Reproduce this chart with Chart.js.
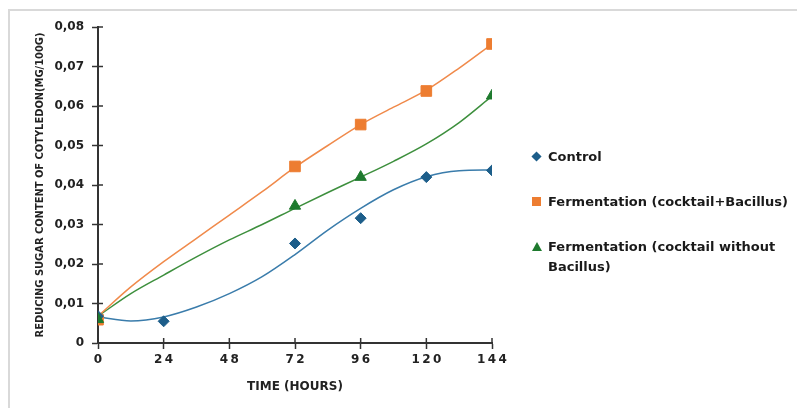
<!DOCTYPE html>
<html lang="en">
  <head>
    <meta charset="UTF-8" />
    <title>Reducing sugar content</title>
    <script src="https://cdn.jsdelivr.net/npm/chart.js"></script>
    <style>
      body {
        margin: 0;
        background: #ffffff;
        width: 797px;
        height: 408px;
        overflow: hidden;
        position: relative;
      }
      #frame {
        position: absolute;
        left: 8px;
        top: 9px;
        width: 820px;
        height: 420px;
        border: 2px solid #d9d9d9;
      }
      #wrap {
        position: absolute;
        left: 0;
        top: 0;
        width: 797px;
        height: 408px;
      }
      #legend {
        position: absolute;
        left: 530px;
        top: 147px;
        width: 262px;
        font-family: "DejaVu Sans", sans-serif;
        font-weight: bold;
        font-size: 13px;
        color: #1a1a1a;
      }
      .item {
        position: relative;
        padding-left: 18px;
        line-height: 20px;
        margin-bottom: 25px;
      }
      .mark {
        position: absolute;
        left: 2px;
        top: 5px;
        width: 9px;
        height: 9px;
      }
    </style>
  </head>
  <body>
    <div id="frame"></div>
    <div id="wrap"><canvas id="myChart" width="797" height="408"></canvas></div>
    <div id="legend"></div>

    <script>
      // measured values (hours -> mg/100g)
      var seriesNames = ['Control', 'Fermentation (cocktail+Bacillus)', 'Fermentation (cocktail without Bacillus)'];
      var controlX = [0, 24, 72, 96, 120, 144];
      var controlY = [0.0068, 0.0055, 0.0252, 0.0316, 0.0420, 0.0437];
      var bacillusX = [0, 72, 96, 120, 144];
      var bacillusY = [0.0059, 0.0447, 0.0553, 0.0638, 0.0757];
      var noBacillusX = [0, 72, 96, 144];
      var noBacillusY = [0.0060, 0.0347, 0.0420, 0.0626];

      // trend curves, every 12 h
      var trendX = [0, 12, 24, 36, 48, 60, 72, 84, 96, 108, 120, 132, 144];
      var controlTrend = [0.0066, 0.0056, 0.0066, 0.0091, 0.0125, 0.0168, 0.0224, 0.0286, 0.0341, 0.0388, 0.0421, 0.0436, 0.0438];
      var bacillusTrend = [0.0068, 0.0142, 0.0206, 0.0265, 0.0324, 0.0383, 0.0445, 0.0500, 0.0553, 0.0597, 0.0640, 0.0696, 0.0757];
      var noBacillusTrend = [0.0068, 0.0125, 0.0172, 0.0218, 0.0261, 0.0300, 0.0341, 0.0381, 0.0420, 0.0460, 0.0504, 0.0558, 0.0625];

      var xTicks = [0, 24, 48, 72, 96, 120, 144];

      var markColors = ['#1d5e8a', '#ed7d31', '#1e7a2e'];
      var lineColors = ['#3a7cab', '#f08a4b', '#3d8f3d'];
      var markStyles = ['rectRot', 'rect', 'triangle'];
      var markSizes = [5.5, 7.5, 6.5];
      var markOrder = [1, 2, 0]; // triangle on top, square at the back

      function pts(xs, ys) {
        return xs.map(function (x, i) { return { x: x, y: ys[i] }; });
      }

      var measured = [pts(controlX, controlY), pts(bacillusX, bacillusY), pts(noBacillusX, noBacillusY)];
      var trends = [pts(trendX, controlTrend), pts(trendX, bacillusTrend), pts(trendX, noBacillusTrend)];

      var datasets = [];
      for (var i = 0; i < 3; i++) {
        datasets.push({
          label: seriesNames[i],
          data: measured[i],
          showLine: false,
          pointStyle: markStyles[i],
          pointRadius: markSizes[i],
          backgroundColor: markColors[i],
          borderColor: markColors[i],
          borderWidth: 1,
          order: markOrder[i]
        });
      }
      for (var j = 0; j < 3; j++) {
        datasets.push({
          label: 'trend' + j,
          data: trends[j],
          showLine: true,
          pointRadius: 0,
          borderColor: lineColors[j],
          borderWidth: 1.5,
          cubicInterpolationMode: 'monotone',
          order: 5
        });
      }

      // tick marks that cross the axes
      var crossTicks = {
        id: 'crossTicks',
        afterDatasetsDraw: function (chart) {
          var ctx = chart.ctx, xs = chart.scales.x, ys = chart.scales.y;
          ctx.save();
          ctx.strokeStyle = '#333';
          ctx.lineWidth = 1.5;
          xs.ticks.forEach(function (t) {
            var px = xs.getPixelForValue(t.value);
            ctx.beginPath();
            ctx.moveTo(px, ys.bottom);
            ctx.lineTo(px, ys.bottom - 5);
            ctx.stroke();
          });
          ys.ticks.forEach(function (t) {
            var py = ys.getPixelForValue(t.value);
            ctx.beginPath();
            ctx.moveTo(xs.left, py);
            ctx.lineTo(xs.left + 5, py);
            ctx.stroke();
          });
          ctx.restore();
        }
      };

      var tickFont = { family: '"DejaVu Sans", sans-serif', size: 12, weight: 'bold' };

      var myChart = new Chart(document.getElementById('myChart').getContext('2d'), {
        type: 'scatter',
        data: { datasets: datasets },
        plugins: [crossTicks],
        options: {
          responsive: false,
          animation: false,
          layout: { padding: { left: 0, top: 27, right: 305, bottom: 0 } },
          plugins: { legend: { display: false }, tooltip: { enabled: false } },
          scales: {
            x: {
              type: 'linear',
              min: 0,
              max: 144,
              afterBuildTicks: function (s) { s.ticks = xTicks.map(function (v) { return { value: v }; }); },
              afterFit: function (s) { s.height = 65; },
              ticks: {
                color: '#222',
                font: tickFont,
                padding: 4,
                callback: function (v) { return String(v).split('').join('\u2009'); }
              },
              grid: { drawOnChartArea: false, color: '#333', tickLength: 6, tickWidth: 1.5 },
              border: { color: '#333', width: 2 },
              title: {
                display: true,
                text: 'TIME (HOURS)',
                color: '#222',
                font: { family: '"DejaVu Sans", sans-serif', size: 12, weight: 'bold' },
                padding: { top: 6, bottom: 14 }
              }
            },
            y: {
              min: 0,
              max: 0.08,
              afterFit: function (s) { s.width = 98; },
              ticks: {
                stepSize: 0.01,
                color: '#222',
                font: tickFont,
                padding: 8,
                callback: function (v) { return v === 0 ? '0' : v.toFixed(2).replace('.', ','); }
              },
              grid: { drawOnChartArea: false, color: '#333', tickLength: 6, tickWidth: 1.5 },
              border: { color: '#333', width: 2 },
              title: {
                display: true,
                text: 'REDUCING SUGAR CONTENT OF COTYLEDON(MG/100G)',
                color: '#222',
                font: { family: '"Liberation Sans Narrow", "DejaVu Sans Condensed", sans-serif', size: 11, weight: 'bold' },
                padding: { top: 34, bottom: 0 }
              }
            }
          }
        }
      });

      // legend built from the series names and colours
      var legend = document.getElementById('legend');
      seriesNames.forEach(function (name, k) {
        var item = document.createElement('div');
        item.className = 'item';
        var mark = document.createElement('span');
        mark.className = 'mark';
        if (k === 0) {
          mark.style.background = markColors[k];
          mark.style.transform = 'rotate(45deg) scale(0.8)';
        } else if (k === 1) {
          mark.style.background = markColors[k];
        } else {
          mark.style.width = '0';
          mark.style.height = '0';
          mark.style.borderLeft = '5px solid transparent';
          mark.style.borderRight = '5px solid transparent';
          mark.style.borderBottom = '9px solid ' + markColors[k];
        }
        item.appendChild(mark);
        item.appendChild(document.createTextNode(name));
        legend.appendChild(item);
      });
    </script>
  </body>
</html>
